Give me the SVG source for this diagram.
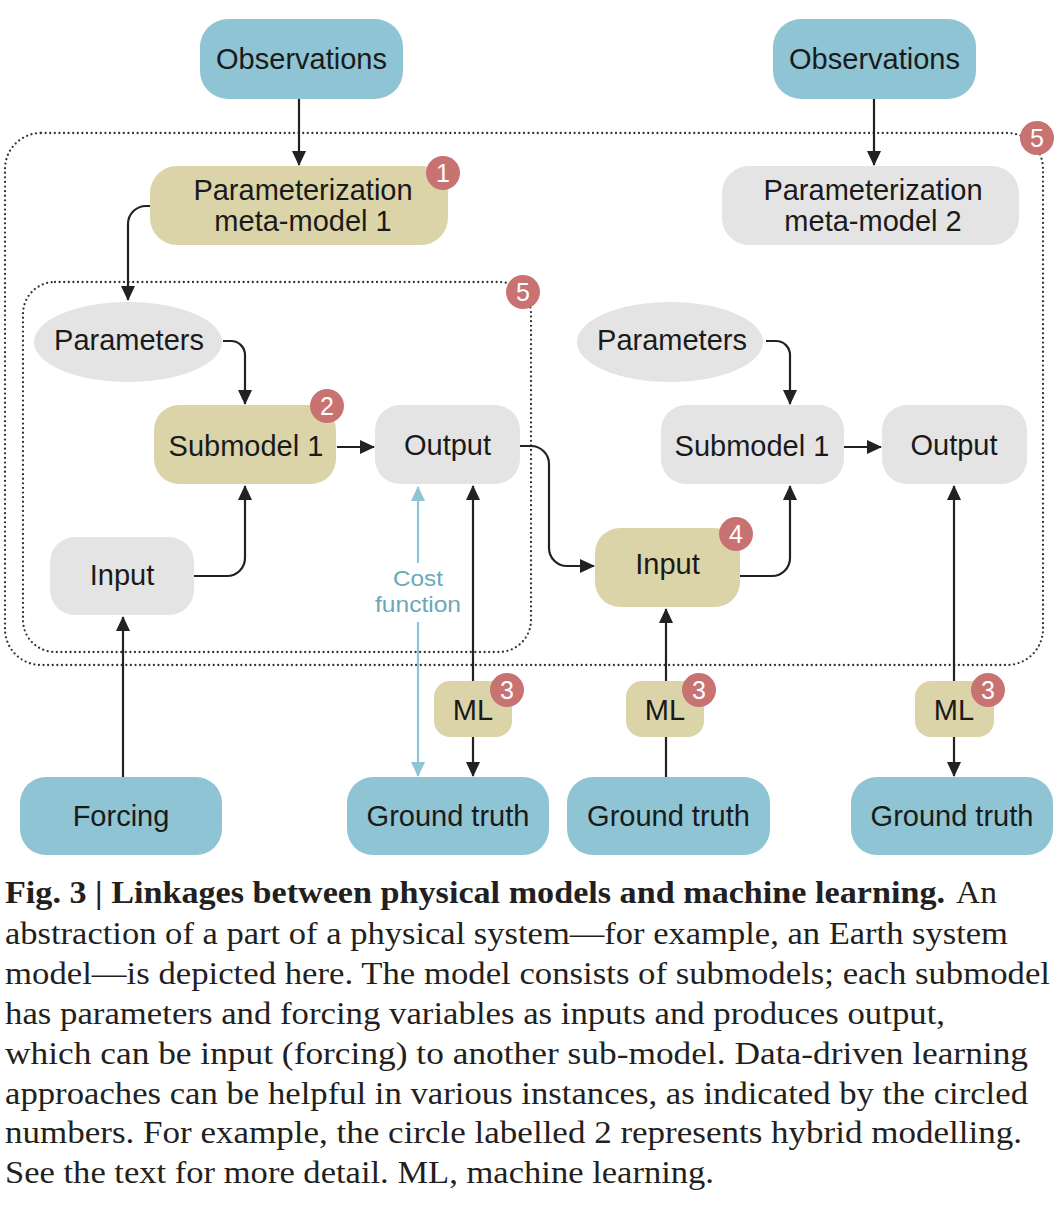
<svg xmlns="http://www.w3.org/2000/svg" width="1057" height="1205" viewBox="0 0 1057 1205">
<defs>
<marker id="ah" markerWidth="16" markerHeight="14" refX="14" refY="7" orient="auto" markerUnits="userSpaceOnUse">
<path d="M0,0 L15,7 L0,14 Z" fill="#222"/>
</marker>
<marker id="ahb" markerWidth="16" markerHeight="14" refX="14" refY="7" orient="auto-start-reverse" markerUnits="userSpaceOnUse">
<path d="M0,0 L15,7 L0,14 Z" fill="#8ec5d4"/>
</marker>
<style>
.blue{fill:#8ec4d3}
.tan{fill:#dbd4a8}
.gray{fill:#e4e4e4}
.lbl{font-family:"Liberation Sans",Arial,sans-serif;font-size:29px;fill:#1a1a1a;text-anchor:middle}
.badge circle{fill:#c87272}
.badge text{font-family:"Liberation Sans",Arial,sans-serif;font-size:25px;fill:#fff;text-anchor:middle}
.dot{fill:none;stroke:#333;stroke-width:2.3;stroke-dasharray:0 4.6;stroke-linecap:round}
.conn{fill:none;stroke:#222;stroke-width:2.2}
.cost{fill:none;stroke:#8ec5d4;stroke-width:2.2}
.costt{font-family:"Liberation Sans",Arial,sans-serif;font-size:22px;fill:#6aa8ba;text-anchor:middle}
.cap{font-family:"Liberation Serif",serif;font-size:31px;fill:#231f20}
</style>
</defs>

<g id="groups">
<rect class="dot" x="5" y="133" width="1038" height="532" rx="36"/>
<rect class="dot" x="23" y="282" width="508" height="370" rx="32"/>
</g>

<g id="obs1"><rect class="blue" x="200" y="19" width="203" height="80" rx="28"/><text class="lbl" x="301.5" y="69">Observations</text></g>
<g id="obs2"><rect class="blue" x="773" y="19" width="203" height="80" rx="28"/><text class="lbl" x="874.5" y="69">Observations</text></g>
<g id="meta1"><rect class="tan" x="150" y="166" width="298" height="79" rx="27"/><text class="lbl" x="303" y="200">Parameterization</text><text class="lbl" x="303" y="231">meta-model 1</text></g>
<g id="meta2"><rect class="gray" x="722" y="166" width="297" height="79" rx="27"/><text class="lbl" x="873" y="200">Parameterization</text><text class="lbl" x="873" y="231">meta-model 2</text></g>
<g id="params1"><ellipse class="gray" cx="128" cy="342" rx="94" ry="40"/><text class="lbl" x="129" y="350">Parameters</text></g>
<g id="params2"><ellipse class="gray" cx="670" cy="342" rx="93" ry="40"/><text class="lbl" x="672" y="350">Parameters</text></g>
<g id="sub1"><rect class="tan" x="154" y="405" width="182" height="79" rx="25"/><text class="lbl" x="246" y="456">Submodel 1</text></g>
<g id="out1"><rect class="gray" x="375" y="405" width="145" height="79" rx="25"/><text class="lbl" x="447.5" y="455">Output</text></g>
<g id="in1"><rect class="gray" x="50" y="537" width="144" height="78" rx="25"/><text class="lbl" x="122" y="585">Input</text></g>
<g id="sub2"><rect class="gray" x="661" y="405" width="183" height="79" rx="25"/><text class="lbl" x="752" y="456">Submodel 1</text></g>
<g id="out2"><rect class="gray" x="882" y="405" width="145" height="79" rx="25"/><text class="lbl" x="954" y="455">Output</text></g>
<g id="in2"><rect class="tan" x="595" y="528" width="145" height="79" rx="25"/><text class="lbl" x="667.5" y="574">Input</text></g>
<g id="forcing"><rect class="blue" x="20" y="777" width="202" height="78" rx="26"/><text class="lbl" x="121" y="826">Forcing</text></g>
<g id="gt1"><rect class="blue" x="347" y="777" width="202" height="78" rx="26"/><text class="lbl" x="448" y="826">Ground truth</text></g>
<g id="gt2"><rect class="blue" x="567" y="777" width="203" height="78" rx="26"/><text class="lbl" x="668.5" y="826">Ground truth</text></g>
<g id="gt3"><rect class="blue" x="851" y="777" width="202" height="78" rx="26"/><text class="lbl" x="952" y="826">Ground truth</text></g>
<g id="ml1"><rect class="tan" x="434" y="681" width="78" height="56" rx="16"/><text class="lbl" x="473" y="720">ML</text></g>
<g id="ml2"><rect class="tan" x="626" y="681" width="78" height="56" rx="16"/><text class="lbl" x="665" y="720">ML</text></g>
<g id="ml3"><rect class="tan" x="915" y="681" width="79" height="56" rx="16"/><text class="lbl" x="954" y="720">ML</text></g>

<g id="connectors">
<line class="conn" x1="299" y1="99" x2="299" y2="165" marker-end="url(#ah)"/>
<line class="conn" x1="874" y1="99" x2="874" y2="165" marker-end="url(#ah)"/>
<path class="conn" d="M150,206 H146 A18,18 0 0 0 128,224 V300" marker-end="url(#ah)"/>
<path class="conn" d="M223,341 H231 A14,14 0 0 1 245,355 V404" marker-end="url(#ah)"/>
<path class="conn" d="M194,576 H227 A18,18 0 0 0 245,558 V486" marker-end="url(#ah)"/>
<line class="conn" x1="337" y1="447" x2="374" y2="447" marker-end="url(#ah)"/>
<line class="conn" x1="123" y1="777" x2="123" y2="617" marker-end="url(#ah)"/>
<path class="cost" d="M418,563 V487" marker-end="url(#ahb)"/>
<path class="cost" d="M418,622 V776" marker-end="url(#ahb)"/>
<line class="conn" x1="473" y1="681" x2="473" y2="486" marker-end="url(#ah)"/>
<line class="conn" x1="473" y1="737" x2="473" y2="776" marker-end="url(#ah)"/>
<path class="conn" d="M520,446 H531 A18,18 0 0 1 549,464 V548 A18,18 0 0 0 567,566 H594" marker-end="url(#ah)"/>
<path class="conn" d="M740,576 H772 A18,18 0 0 0 790,558 V486" marker-end="url(#ah)"/>
<path class="conn" d="M766,341 H776 A14,14 0 0 1 790,355 V404" marker-end="url(#ah)"/>
<line class="conn" x1="844" y1="447" x2="881" y2="447" marker-end="url(#ah)"/>
<line class="conn" x1="666" y1="777" x2="666" y2="737"/>
<line class="conn" x1="666" y1="681" x2="666" y2="609" marker-end="url(#ah)"/>
<line class="conn" x1="954" y1="681" x2="954" y2="486" marker-end="url(#ah)"/>
<line class="conn" x1="954" y1="737" x2="954" y2="776" marker-end="url(#ah)"/>
<text class="costt" x="418" y="586" textLength="50" lengthAdjust="spacingAndGlyphs">Cost</text>
<text class="costt" x="418" y="612" textLength="86" lengthAdjust="spacingAndGlyphs">function</text>
</g>

<g id="badges">
<g class="badge"><circle cx="443" cy="173" r="17"/><text x="443" y="182">1</text></g>
<g class="badge"><circle cx="327" cy="406" r="17"/><text x="327" y="415">2</text></g>
<g class="badge"><circle cx="507" cy="690" r="17"/><text x="507" y="699">3</text></g>
<g class="badge"><circle cx="699" cy="690" r="17"/><text x="699" y="699">3</text></g>
<g class="badge"><circle cx="988" cy="690" r="17"/><text x="988" y="699">3</text></g>
<g class="badge"><circle cx="736" cy="534" r="17"/><text x="736" y="543">4</text></g>
<g class="badge"><circle cx="523" cy="292" r="17"/><text x="523" y="301">5</text></g>
<g class="badge"><circle cx="1037" cy="138" r="17"/><text x="1037" y="147">5</text></g>
</g>

<g id="caption" font-family="Liberation Serif, serif">
<text class="cap" x="5" y="903" font-weight="bold" textLength="940" lengthAdjust="spacingAndGlyphs">Fig. 3 | Linkages between physical models and machine learning.</text>
<text class="cap" x="956" y="903" textLength="41" lengthAdjust="spacingAndGlyphs">An</text>
<text class="cap" x="5" y="944" textLength="1003" lengthAdjust="spacingAndGlyphs">abstraction of a part of a physical system—for example, an Earth system</text>
<text class="cap" x="5" y="984" textLength="1045" lengthAdjust="spacingAndGlyphs">model—is depicted here. The model consists of submodels; each submodel</text>
<text class="cap" x="5" y="1024" textLength="940" lengthAdjust="spacingAndGlyphs">has parameters and forcing variables as inputs and produces output,</text>
<text class="cap" x="5" y="1064" textLength="1023" lengthAdjust="spacingAndGlyphs">which can be input (forcing) to another sub-model. Data-driven learning</text>
<text class="cap" x="5" y="1104" textLength="1023" lengthAdjust="spacingAndGlyphs">approaches can be helpful in various instances, as indicated by the circled</text>
<text class="cap" x="5" y="1143" textLength="1017" lengthAdjust="spacingAndGlyphs">numbers. For example, the circle labelled 2 represents hybrid modelling.</text>
<text class="cap" x="5" y="1183" textLength="709" lengthAdjust="spacingAndGlyphs">See the text for more detail. ML, machine learning.</text>
</g>
</svg>
